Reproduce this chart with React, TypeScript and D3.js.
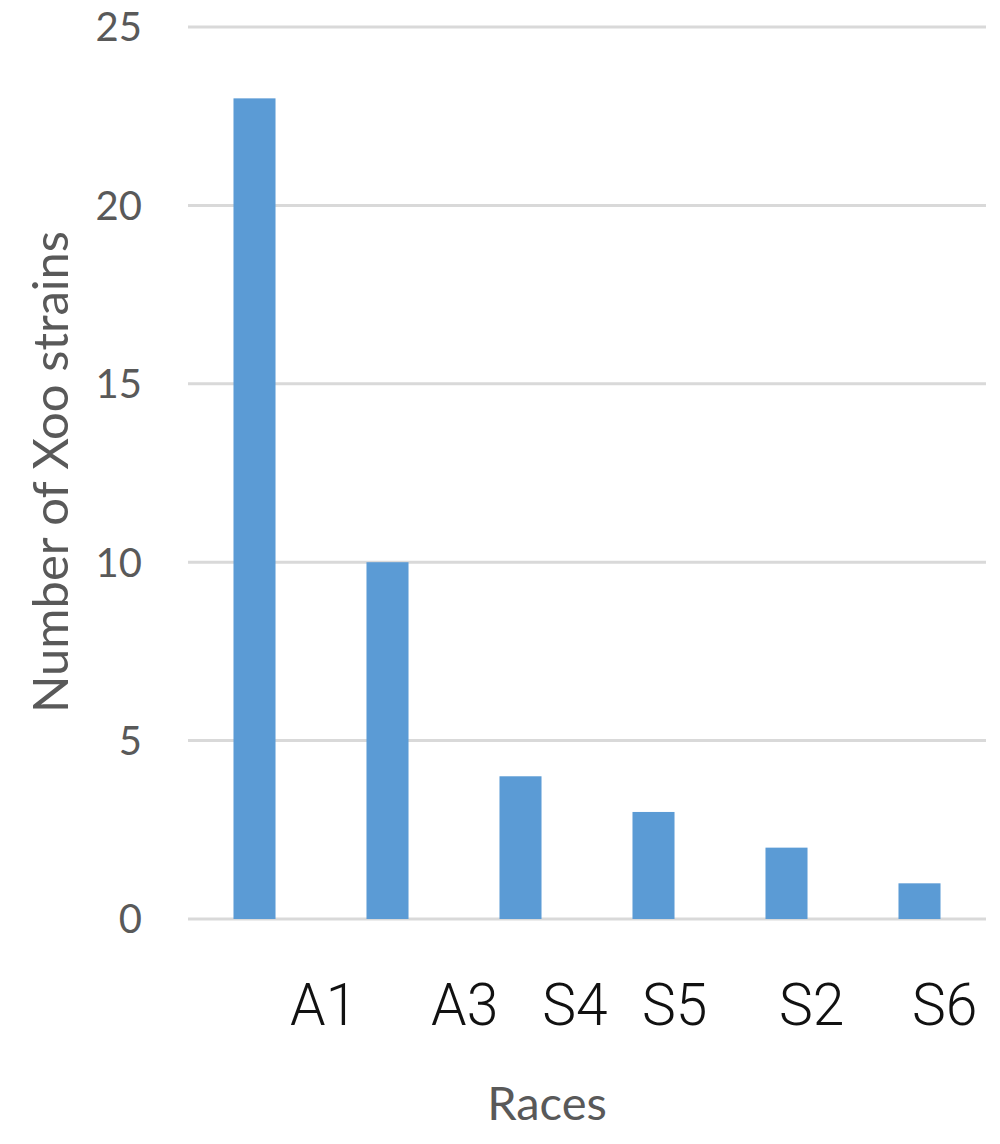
import React from 'react';
import * as d3 from 'd3';

const races = ['A1', 'A3', 'S4', 'S5', 'S2', 'S6'];
const strains = [23, 10, 4, 3, 2, 1];
const yTicks = [0, 5, 10, 15, 20, 25];

// the category labels in the reference sit off their bars; shift in band units
const labelShift = [0.52, 0.58, 0.41, 0.16, 0.19, 0.19];

const W = 1000;
const H = 1144;
const margin = { top: 27, right: 14, bottom: 225, left: 188 };

const App: React.FC = () => {
    const x = d3.scaleBand<string>()
        .domain(races)
        .range([margin.left, W - margin.right])
        .paddingInner(0.684)
        .paddingOuter(0.342);

    const y = d3.scaleLinear()
        .domain([0, 25])
        .range([H - margin.bottom, margin.top]);

    const step = x.step();
    const grey = '#595959';

    return (
        <svg width={W} height={H} style={{ position: 'absolute', left: 0, top: 0 }}>
            <rect width={W} height={H} fill="#fff" />
            {yTicks.map(t => (
                <g key={t}>
                    <line x1={margin.left} x2={W - margin.right} y1={y(t)} y2={y(t)}
                        stroke="#d9d9d9" strokeWidth={3} />
                    <text x={142} y={y(t)} dy="0.36em" textAnchor="end"
                        fontFamily="Lato, 'Open Sans', sans-serif" fontSize={40} fill={grey}>
                        {t}
                    </text>
                </g>
            ))}
            {races.map((r, i) => (
                <rect key={r} x={x(r)} width={x.bandwidth()} y={y(strains[i])}
                    height={y(0) - y(strains[i])} fill="#5b9bd5" />
            ))}
            {races.map((r, i) => {
                const cx = (x(r) as number) + x.bandwidth() / 2 + labelShift[i] * step;
                return (
                    <text key={r} transform={`translate(${cx},1025) scale(0.95,1)`}
                        textAnchor="middle"
                        fontFamily="Roboto, sans-serif" fontWeight={300}
                        fontSize={60} fill="#111">
                        {r}
                    </text>
                );
            })}
            <text x={547} y={1120} textAnchor="middle"
                fontFamily="Lato, 'Open Sans', sans-serif" fontSize={47} fill={grey}>
                Races
            </text>
            <text transform={`translate(68,472) rotate(-90)`} textAnchor="middle"
                fontFamily="Lato, 'Open Sans', sans-serif" fontSize={49} fill={grey}>
                Number of Xoo strains
            </text>
        </svg>
    );
};

export default App;
